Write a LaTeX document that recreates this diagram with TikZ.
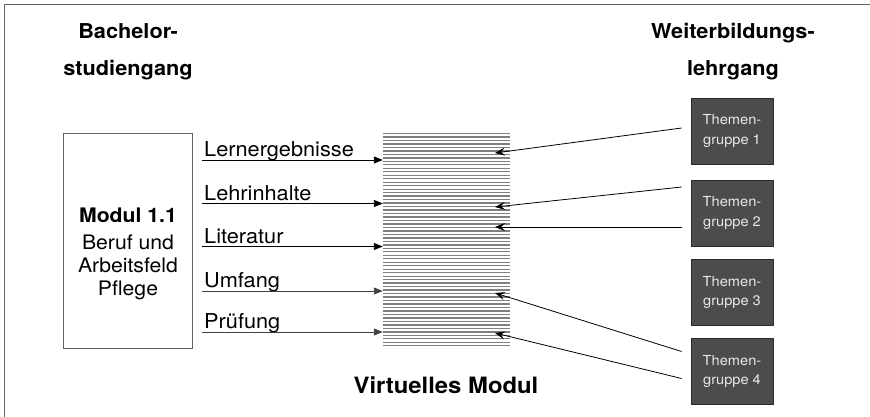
\documentclass[tikz,border=0pt]{standalone}
\usepackage{fontspec}
\setmainfont[FakeStretch=1.06]{TeX Gyre Heros}
\usetikzlibrary{arrows.meta}
\definecolor{tgfill}{RGB}{76,76,78}
\definecolor{tgdraw}{RGB}{45,45,45}
\definecolor{tgtext}{RGB}{232,232,232}
\definecolor{framegray}{RGB}{100,100,100}
\begin{document}
\begin{tikzpicture}[x=1pt,y=1pt,yscale=-1,
    head/.style={font=\bfseries\fontsize{20.5}{37}\selectfont, align=center, inner sep=0pt},
    lbl/.style={font=\fontsize{20.5}{24}\selectfont, anchor=base west, inner sep=0pt},
    modbox/.style={draw=framegray, line width=0.9pt, minimum width=129pt, minimum height=215pt, inner sep=0pt},
    tgbox/.style={draw=tgdraw, fill=tgfill, line width=0.8pt, minimum width=82pt, minimum height=66pt,
                  text=tgtext, font=\fontsize{13.8}{19.5}\selectfont, align=center, inner sep=0pt},
    inarrow/.style={line width=0.9pt, -{Triangle[length=9pt,width=7pt]}},
    tgarrow/.style={line width=0.8pt, -{Stealth[length=10pt,width=8pt,inset=4pt]}},
    stripe/.style={draw=black!50, line width=1.3pt}]
    \useasboundingbox (0,0) rectangle (870,417);
    % frame
    \draw[framegray, line width=1.2pt] (4.5,417) -- (4.5,4.5) -- (870,4.5);
    % headings
    \node[head] (bach) at (128,52) {Bachelor-\\studiengang};
    \node[head] (weit) at (733,52) {Weiterbildungs-\\lehrgang};
    % Modul 1.1
    \node[modbox] (mod) at (127.5,240.5) {};
    \node[font=\bfseries\fontsize{20}{24}\selectfont, inner sep=0pt] (modname) at (128,215) {Modul 1.1};
    \node[font=\fontsize{20}{23}\selectfont, align=center, inner sep=0pt] (modtxt) at (128,267) {Beruf und\\Arbeitsfeld\\Pflege};
    % virtuelles Modul
    \node[minimum width=127pt, minimum height=214pt, inner sep=0pt] (vm) at (446.5,240) {};
    \foreach \i in {0,...,61}
        \draw[stripe] (383,{133.5+\i*3.48}) -- (510,{133.5+\i*3.48});
    \node[font=\bfseries\fontsize{22.5}{26}\selectfont, inner sep=0pt] (vmname) at (446,385) {Virtuelles Modul};
    % Lernergebnisse usw.
    \coordinate (a1) at (202,160);
    \coordinate (a2) at (202,203.5);
    \coordinate (a3) at (202,246.5);
    \coordinate (a4) at (202,291);
    \coordinate (a5) at (202,332);
    \node[lbl] (lern) at ([shift={(2,-3.5)}]a1) {Lernergebnisse};
    \node[lbl] (lehr) at ([shift={(2,-3.5)}]a2) {Lehrinhalte};
    \node[lbl] (lit) at ([shift={(2,-3.5)}]a3) {Literatur};
    \node[lbl] (umf) at ([shift={(2,-3.5)}]a4) {Umfang};
    \node[lbl] (pruef) at ([shift={(2,-3.5)}]a5) {Prüfung};
    \draw[inarrow] (a1) -- (a1 -| vm.west);
    \draw[inarrow] (a2) -- (a2 -| vm.west);
    \draw[inarrow] (a3) -- (a3 -| vm.west);
    \draw[inarrow, black!75] (a4) -- (a4 -| vm.west);
    \draw[inarrow, black!75] (a5) -- (a5 -| vm.west);
    % Themengruppen
    \node[tgbox] (tg1) at (732,131) {Themen-\\gruppe 1};
    \node[tgbox] (tg2) at (732,213) {Themen-\\gruppe 2};
    \node[tgbox] (tg3) at (732,292.5) {Themen-\\gruppe 3};
    \node[tgbox] (tg4) at (732,371.5) {Themen-\\gruppe 4};
    \coordinate (b1) at (495,153);
    \coordinate (b2) at (495,207);
    \coordinate (b3) at (495,227);
    \coordinate (b4) at (495,293);
    \coordinate (b5) at (495,333);
    \draw[tgarrow] ([shift={(-9,-3)}]tg1.west) -- (b1);
    \draw[tgarrow] ([shift={(-9,-26)}]tg2.west) -- (b2);
    \draw[tgarrow] ([shift={(-9,14)}]tg2.west) -- (b3);
    \draw[tgarrow] ([shift={(-9,-20)}]tg4.west) -- (b4);
    \draw[tgarrow] ([shift={(-9,7)}]tg4.west) -- (b5);
\end{tikzpicture}
\end{document}
